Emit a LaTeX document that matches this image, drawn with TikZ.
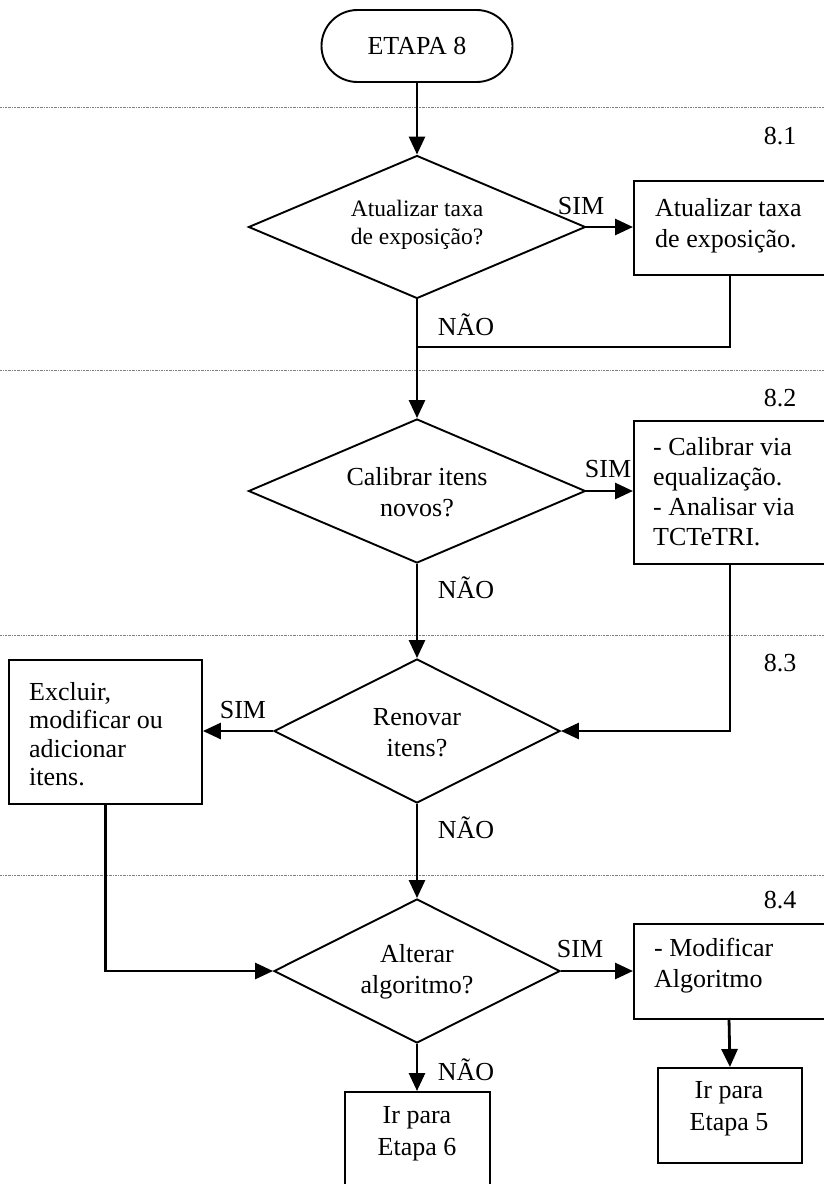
\documentclass[tikz,border=0pt]{standalone}
\usepackage{fontspec}
\setmainfont{Liberation Serif}
\usetikzlibrary{shapes.geometric,arrows.meta,calc}
\begin{document}
\begin{tikzpicture}[x=1pt,y=-1pt,
  flow/.style={line width=2.8pt,-{Triangle[length=18pt,width=16pt]}},
  link/.style={line width=2.8pt},
  decision/.style={diamond,draw,line width=1.9pt,inner sep=0pt},
  box/.style={draw,line width=1.9pt,inner sep=0pt,anchor=north west},
  txt/.style={inner sep=0pt,align=left,font=\fontsize{26}{31}\selectfont},
  ctxt/.style={inner sep=0pt,align=center,font=\fontsize{26}{31}\selectfont},
  lbl/.style={inner sep=0pt,font=\fontsize{26}{30}\selectfont},
  terminal/.style={draw,line width=1.9pt,rounded corners=36pt,minimum width=191pt,
    minimum height=72pt,font=\fontsize{26}{30}\selectfont},
  sep/.style={gray,line width=0.8pt,dash pattern=on 2pt off 1pt on 0.6pt off 1pt}
]
\useasboundingbox (0,0) rectangle (824,1184);
\clip (0,0) rectangle (824,1184);

% stage separators
\draw[sep] (0,107) -- (824,107);
\draw[sep] (0,370) -- (824,370);
\draw[sep] (0,635) -- (824,635);
\draw[sep] (0,875) -- (824,875);

% stage numbers
\node[lbl] (n1) at (780,136) {8.1};
\node[lbl] (n2) at (780,398) {8.2};
\node[lbl] (n3) at (780,663) {8.3};
\node[lbl] (n4) at (780,900) {8.4};

% start
\node[terminal] (start) at (417,46) {ETAPA 8};

% decisions (outline, then question)
\node[decision,minimum width=337pt,minimum height=143pt] (d1) at (417,227) {};
\node[ctxt,font=\fontsize{23.5}{28}\selectfont] (q1) at (417,225) {Atualizar taxa\\de exposição?};
\node[decision,minimum width=337pt,minimum height=144pt] (d2) at (417,491) {};
\node[ctxt] (q2) at (417,492) {Calibrar itens\\novos?};
\node[decision,minimum width=286pt,minimum height=144pt] (d3) at (417,731) {};
\node[ctxt] (q3) at (417,733) {Renovar\\itens?};
\node[decision,minimum width=286pt,minimum height=144pt] (d4) at (417,971) {};
\node[ctxt] (q4) at (417,972) {Alterar\\algoritmo?};

% actions (right-hand boxes run past the right margin)
\node[box,minimum width=194pt,minimum height=94pt] (b1) at (633,180) {};
\node[txt,anchor=west] (t1) at (655,226) {Atualizar taxa\\de exposição.};
\node[box,minimum width=194pt,minimum height=143pt] (b2) at (633,420) {};
\node[txt,anchor=west,font=\fontsize{26}{30}\selectfont] (t2) at (653,492)
  {- Calibrar via\\equalização.\\- Analisar via\\TCTeTRI.};
\node[box,minimum width=193pt,minimum height=144pt] (b3) at (8,659) {};
\node[txt,anchor=west,font=\fontsize{26}{28.5}\selectfont] (t3) at (29,734)
  {Excluir,\\modificar ou\\adicionar\\itens.};
\node[box,minimum width=194pt,minimum height=95pt] (b4) at (633,923) {};
\node[txt,anchor=west] (t4) at (654,966) {- Modificar\\Algoritmo};
\node[box,minimum width=145pt,minimum height=120pt] (b5) at (344,1091) {};
\node[ctxt,font=\fontsize{26}{32}\selectfont] (t5) at (417,1134) {Ir para\\Etapa 6};
\node[box,minimum width=144pt,minimum height=95pt] (b6) at (657,1067) {};
\node[ctxt,font=\fontsize{26}{32}\selectfont] (t6) at (729,1109) {Ir para\\Etapa 5};

% connectors
\coordinate (j1) at (417,347);
\coordinate (e1) at (730,274);
\coordinate (e2) at (730,563);
\coordinate (e4) at (729,1018);
\draw[flow] (start.south) -- (d1.north);
\draw[flow] (d1.east) -- (d1.east -| b1.west);
\draw[link] (e1) |- (j1);
\draw[flow] (d1.south) -- (d2.north);
\draw[flow] (d2.east) -- (d2.east -| b2.west);
\draw[flow] (e2) |- (d3.east);
\draw[flow] (d2.south) -- (d3.north);
\draw[flow] (d3.west) -- (d3.west -| b3.east);
\draw[flow] (b3.south) |- (d4.west);
\draw[flow] (d3.south) -- (d4.north);
\draw[flow] (d4.east) -- (d4.east -| b4.west);
\draw[flow] (e4) -- (b6.north);
\draw[flow] (d4.south) -- (d4.south |- b5.north);

% branch labels
\node[lbl] (s1) at (581,206) {SIM};
\node[lbl] (s2) at (608,469) {SIM};
\node[lbl] (s3) at (243,710) {SIM};
\node[lbl] (s4) at (580,949) {SIM};
\node[lbl] (o1) at (466,325) {NÃO};
\node[lbl] (o2) at (466,588) {NÃO};
\node[lbl] (o3) at (466,828) {NÃO};
\node[lbl] (o4) at (466,1070) {NÃO};
\end{tikzpicture}
\end{document}
